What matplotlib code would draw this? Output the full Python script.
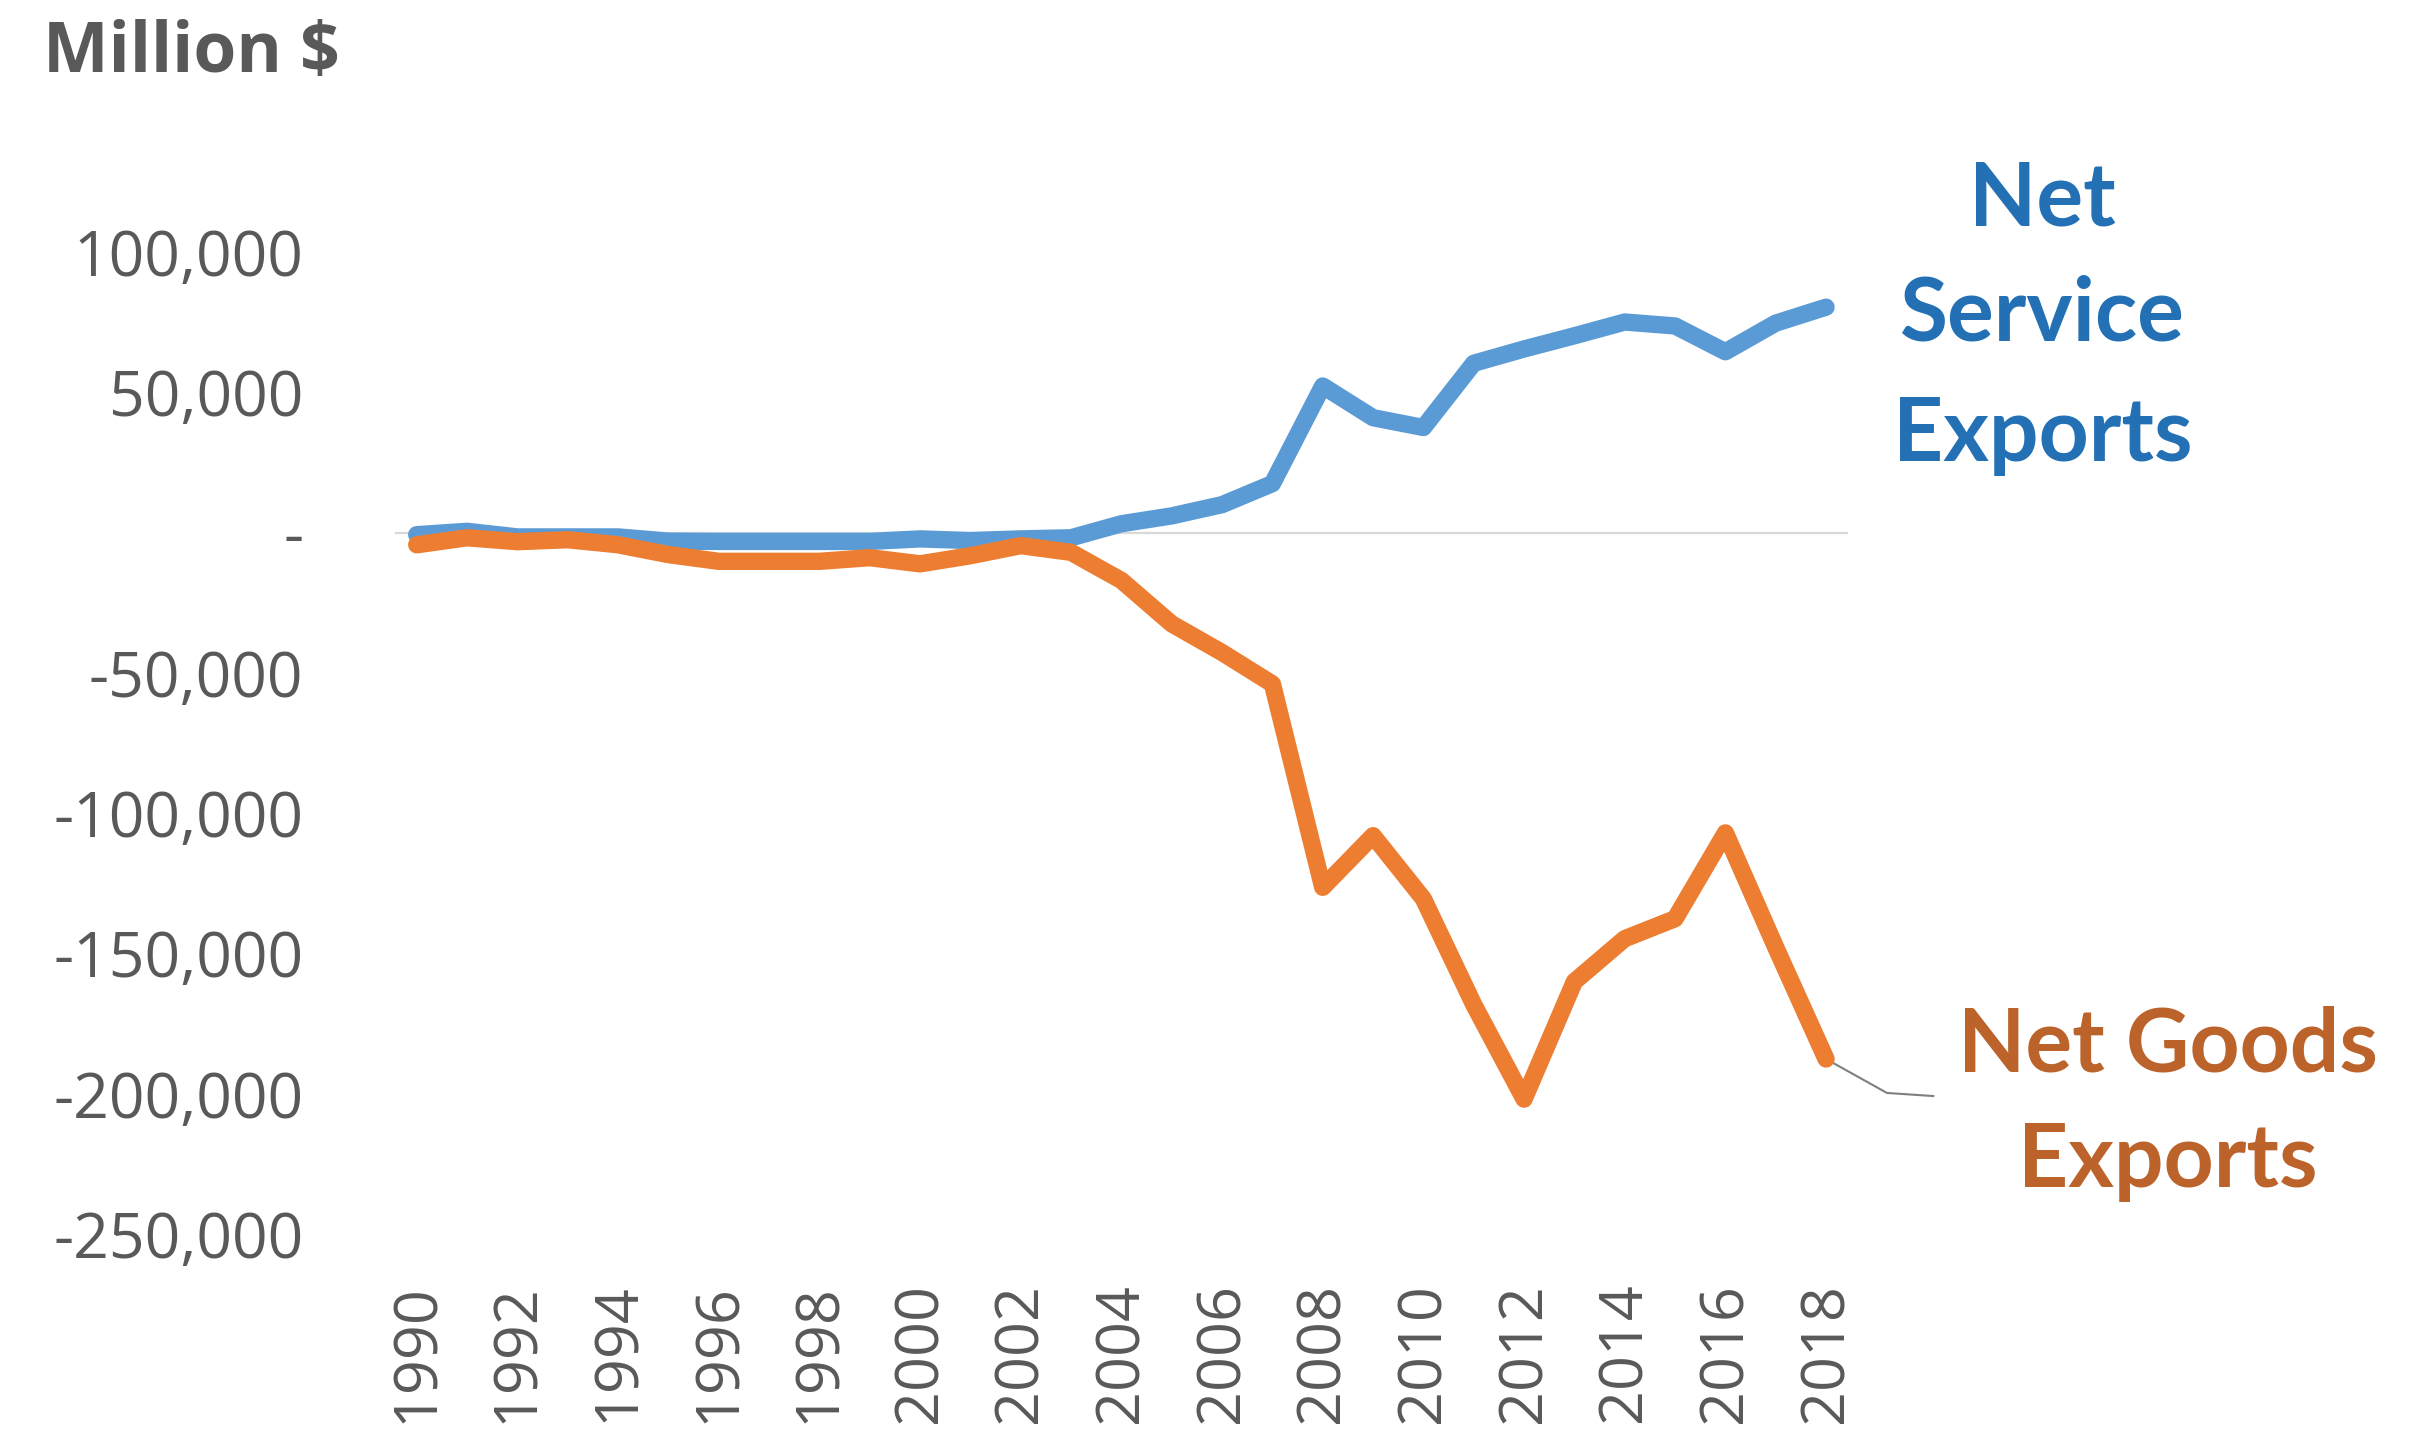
import matplotlib
matplotlib.use("Agg")
import matplotlib.pyplot as plt
from matplotlib.ticker import FuncFormatter

years = list(range(1990, 2019))

# Net exports, million $
net_services = [
    -700, 500, -1500, -1500, -1500, -3000, -3100, -3100, -3100, -3100,
    -2200, -2800, -2200, -1800, 3200, 6000, 10000, 17500, 52300, 41000,
    37500, 60400, 65500, 70200, 75100, 73700, 64500, 74700, 80400,
]
net_goods = [
    -4300, -1800, -3200, -2500, -4300, -7800, -10200, -10200, -10200, -8900,
    -11100, -8200, -4600, -7000, -17000, -32500, -42700, -53900, -126400, -108000,
    -130500, -168200, -201900, -160000, -144700, -137600, -107000, -147800, -187600,
]

y_ticks = [100000, 50000, 0, -50000, -100000, -150000, -200000, -250000]
x_ticks = years[::2]

service_label = ["Net", "Service", "Exports"]
goods_label = ["Net Goods", "Exports"]

blue = "#5B9BD5"
orange = "#ED7D31"
grey_text = "#595959"

fig = plt.figure(figsize=(24.09, 14.41), dpi=100)
ax = fig.add_axes([0.164, 0.1436, 0.603, 0.6814])

ax.axhline(0, color="#D9D9D9", lw=1.6, zorder=1)
ax.plot(years, net_services, color=blue, lw=12.5, solid_capstyle="round",
        solid_joinstyle="round", zorder=2)
ax.plot(years, net_goods, color=orange, lw=12.5, solid_capstyle="round",
        solid_joinstyle="round", zorder=3)

ax.set_xlim(1989.57, 2018.43)
ax.set_ylim(-250000, 100000)
ax.set_yticks(y_ticks)
ax.set_xticks(x_ticks)


def accounting(v, pos):
    if v == 0:
        return "-"
    return f"{v:,.0f}".replace("\u2212", "-")


ax.yaxis.set_major_formatter(FuncFormatter(accounting))
for s in ax.spines.values():
    s.set_visible(False)
ax.tick_params(axis="y", length=0, pad=66, labelsize=45, labelcolor=grey_text)
ax.tick_params(axis="x", length=0, pad=35, labelsize=44, labelcolor=grey_text,
               labelrotation=90)
for lab in ax.get_xticklabels() + ax.get_yticklabels():
    lab.set_fontfamily("Open Sans")

fig.text(0.018, 0.9625, "Million $", fontsize=50, fontweight="bold",
         color=grey_text, family="Open Sans", ha="left", va="center")

# series labels, one line each (baseline positions)
for text, y in zip(service_label, [0.8432, 0.7634, 0.680]):
    fig.text(0.848, y, text, fontsize=63, fontweight="bold", color="#2370B5",
             family="Lato", ha="center", va="baseline")
for text, y in zip(goods_label, [0.2561, 0.1763]):
    fig.text(0.900, y, text, fontsize=63, fontweight="bold", color="#BB632B",
             family="Lato", ha="center", va="baseline")

# leader line from the last goods point to its label
x_end, y_end = years[-1], net_goods[-1]
ax.plot([x_end, x_end + 1.21, x_end + 2.13],
        [y_end, y_end - 12100, y_end - 13200],
        color="#7F7F7F", lw=1.5, clip_on=False, zorder=1)

fig.savefig("out.png", dpi=100)
